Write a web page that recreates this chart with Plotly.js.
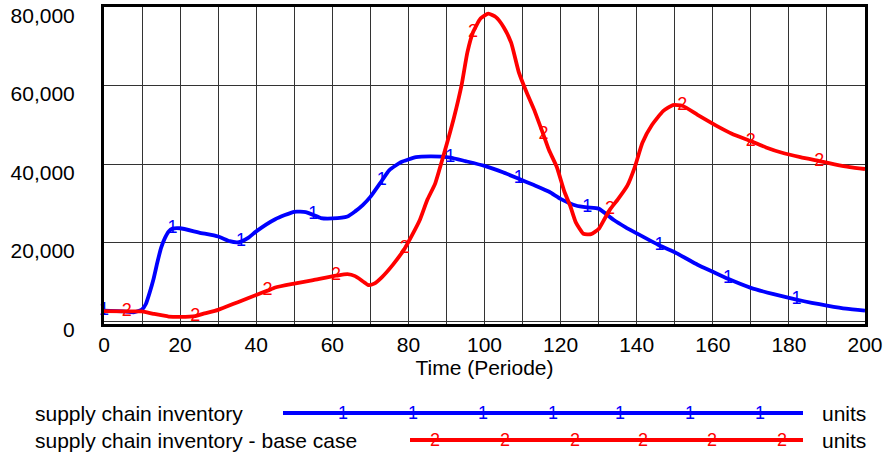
<!DOCTYPE html>
<html><head><meta charset="utf-8">
<script src="https://cdn.plot.ly/plotly-3.0.1.min.js"></script>
<style>html,body{margin:0;padding:0;background:#fff;}#chart{width:891px;height:458px;}</style>
</head><body><div id="chart"></div>
<script>
// Series 1: supply chain inventory
const t1 = [0,5,8,10,11,12,13,14,15,16,17,18,20,25,30,33,35,36,38,40,45,50,53,55,57,60,64,66,68,70,73,75,78,82,86,91,95,100,105,109,113,117,120,124,127,130,134,137,140,146,150,156,160,164,170,176,182,186,190,195,200];
const v1 = [2700,2500,2300,3000,4400,7300,10700,14900,18700,21200,22900,23600,23700,22600,21600,20400,20100,20300,21300,22900,26000,27900,27800,27100,26300,26200,26700,28000,29600,31700,35800,38500,40500,41800,42000,41700,40800,39600,37900,36300,34700,33000,31200,29500,29000,28700,25800,24000,22400,19300,17600,14400,12600,10800,8500,6900,5500,4700,4000,3200,2700];
const marks1 = [0,18,36,55,73,91,109,127,146,164,182];
// Series 2: supply chain inventory - base case
const t2 = [0,6,10,13,17,20,24,26,30,35,40,43,45,50,55,61,64,66,68,69.5,71,73,76,79,81,83,85,87,89,92,94,95.5,97,99,101,103,105,107,109,111,113,115.5,117,119,121,122.5,124,126,128,130,131.5,133,135,137.5,139.5,141.5,144,147,149.5,152,156,161,165,170,174,178,183,188,192,196,200];
const v2 = [2600,2500,2500,1900,1200,1100,1300,1900,2900,4800,6700,7800,8600,9600,10500,11600,12000,11500,10200,9200,9600,11200,14500,18500,22000,25800,31000,35000,41500,52000,60300,68500,73700,77200,78400,77500,75000,71000,63500,58500,54000,47500,43500,39300,33000,29500,25200,22300,22200,23500,26000,28500,31000,34500,39300,45500,50000,53600,55100,54900,52600,49800,47800,45900,44300,43000,41800,40800,40000,39300,38800];
const marks2 = [6,24,43,61,79,97,115.5,133,152,170,188];

const names = ["supply chain inventory", "supply chain inventory - base case"];
const units = "units";
const colors = ["#0000ff", "#ff0000"];
const xTitle = "Time (Periode)";
const yTicks = [0, 20000, 40000, 60000, 80000];

const txt1 = t1.map(t => marks1.includes(t) ? "1" : "");
const txt2 = t2.map(t => marks2.includes(t) ? "2" : "");

const FONT = "Liberation Sans, Arial, sans-serif";
const FS = 21;

const traces = [
  {x: t1, y: v1, type: "scatter", mode: "lines+text", text: txt1, textposition: "middle center",
   textfont: {family: FONT, size: 18, color: colors[0]}, cliponaxis: false,
   line: {color: colors[0], width: 3.8, shape: "spline", smoothing: 0.5}, hoverinfo: "skip", showlegend: false},
  {x: t2, y: v2, type: "scatter", mode: "lines+text", text: txt2, textposition: "middle center",
   textfont: {family: FONT, size: 18, color: colors[1]}, cliponaxis: false,
   line: {color: colors[1], width: 3.8, shape: "spline", smoothing: 0.5}, hoverinfo: "skip", showlegend: false}
];

// Legend built from shapes + annotations (paper coordinates)
const W = 891, H = 458, ML = 104, MR = 26, MT = 7, MB = 134;
const pw = W - ML - MR, ph = H - MT - MB;
const px = x => (x - ML) / pw;
const py = y => 1 - (y - MT) / ph;
const legendRows = [
  {y: 413, x0: 283, x1: 803, marks: [343,413,483,553,620,690,760], label: "1"},
  {y: 440, x0: 410, x1: 803, marks: [435,505,575,643,712,782], label: "2"}
];
const shapes = [], annotations = [];
legendRows.forEach((r, i) => {
  shapes.push({type: "line", xref: "paper", yref: "paper", x0: px(r.x0), x1: px(r.x1), y0: py(r.y), y1: py(r.y),
    line: {color: colors[i], width: 4}});
  annotations.push({xref: "paper", yref: "paper", x: px(33), y: py(r.y), xanchor: "left", yanchor: "middle",
    text: names[i], showarrow: false, font: {family: FONT, size: FS, color: "#000"}});
  annotations.push({xref: "paper", yref: "paper", x: px(820), y: py(r.y), xanchor: "left", yanchor: "middle",
    text: units, showarrow: false, font: {family: FONT, size: FS, color: "#000"}});
  r.marks.forEach(m => annotations.push({xref: "paper", yref: "paper", x: px(m), y: py(r.y), xanchor: "center", yanchor: "middle",
    text: r.label, showarrow: false, font: {family: FONT, size: 18, color: colors[i]}}));
});

const layout = {
  width: W, height: H,
  margin: {l: ML, r: MR, t: MT, b: MB, pad: 0},
  paper_bgcolor: "#fff", plot_bgcolor: "#fff",
  font: {family: FONT, size: FS, color: "#000"},
  showlegend: false,
  xaxis: {range: [0, 200], dtick: 20, tick0: 0, showgrid: true, gridcolor: "#333", gridwidth: 1,
    minor: {dtick: 10, showgrid: true, gridcolor: "#333", gridwidth: 1},
    showline: true, mirror: true, linecolor: "#000", linewidth: 3, ticks: "", zeroline: false,
    tickfont: {family: FONT, size: FS, color: "#000"},
    title: {text: xTitle, font: {family: FONT, size: FS, color: "#000"}, standoff: 2}},
  yaxis: {range: [-700, 80080], tickvals: yTicks, tickformat: ",d",
    showgrid: true, gridcolor: "#333", gridwidth: 1,
    showline: true, mirror: true, linecolor: "#000", linewidth: 3, ticks: "", zeroline: false,
    ticklabelstandoff: 22, ticklabeloverflow: "allow", ticklabelshift: 8,
    tickfont: {family: FONT, size: FS, color: "#000"}},
  shapes: shapes, annotations: annotations
};

Plotly.newPlot("chart", traces, layout, {displayModeBar: false, staticPlot: true});
</script></body></html>
